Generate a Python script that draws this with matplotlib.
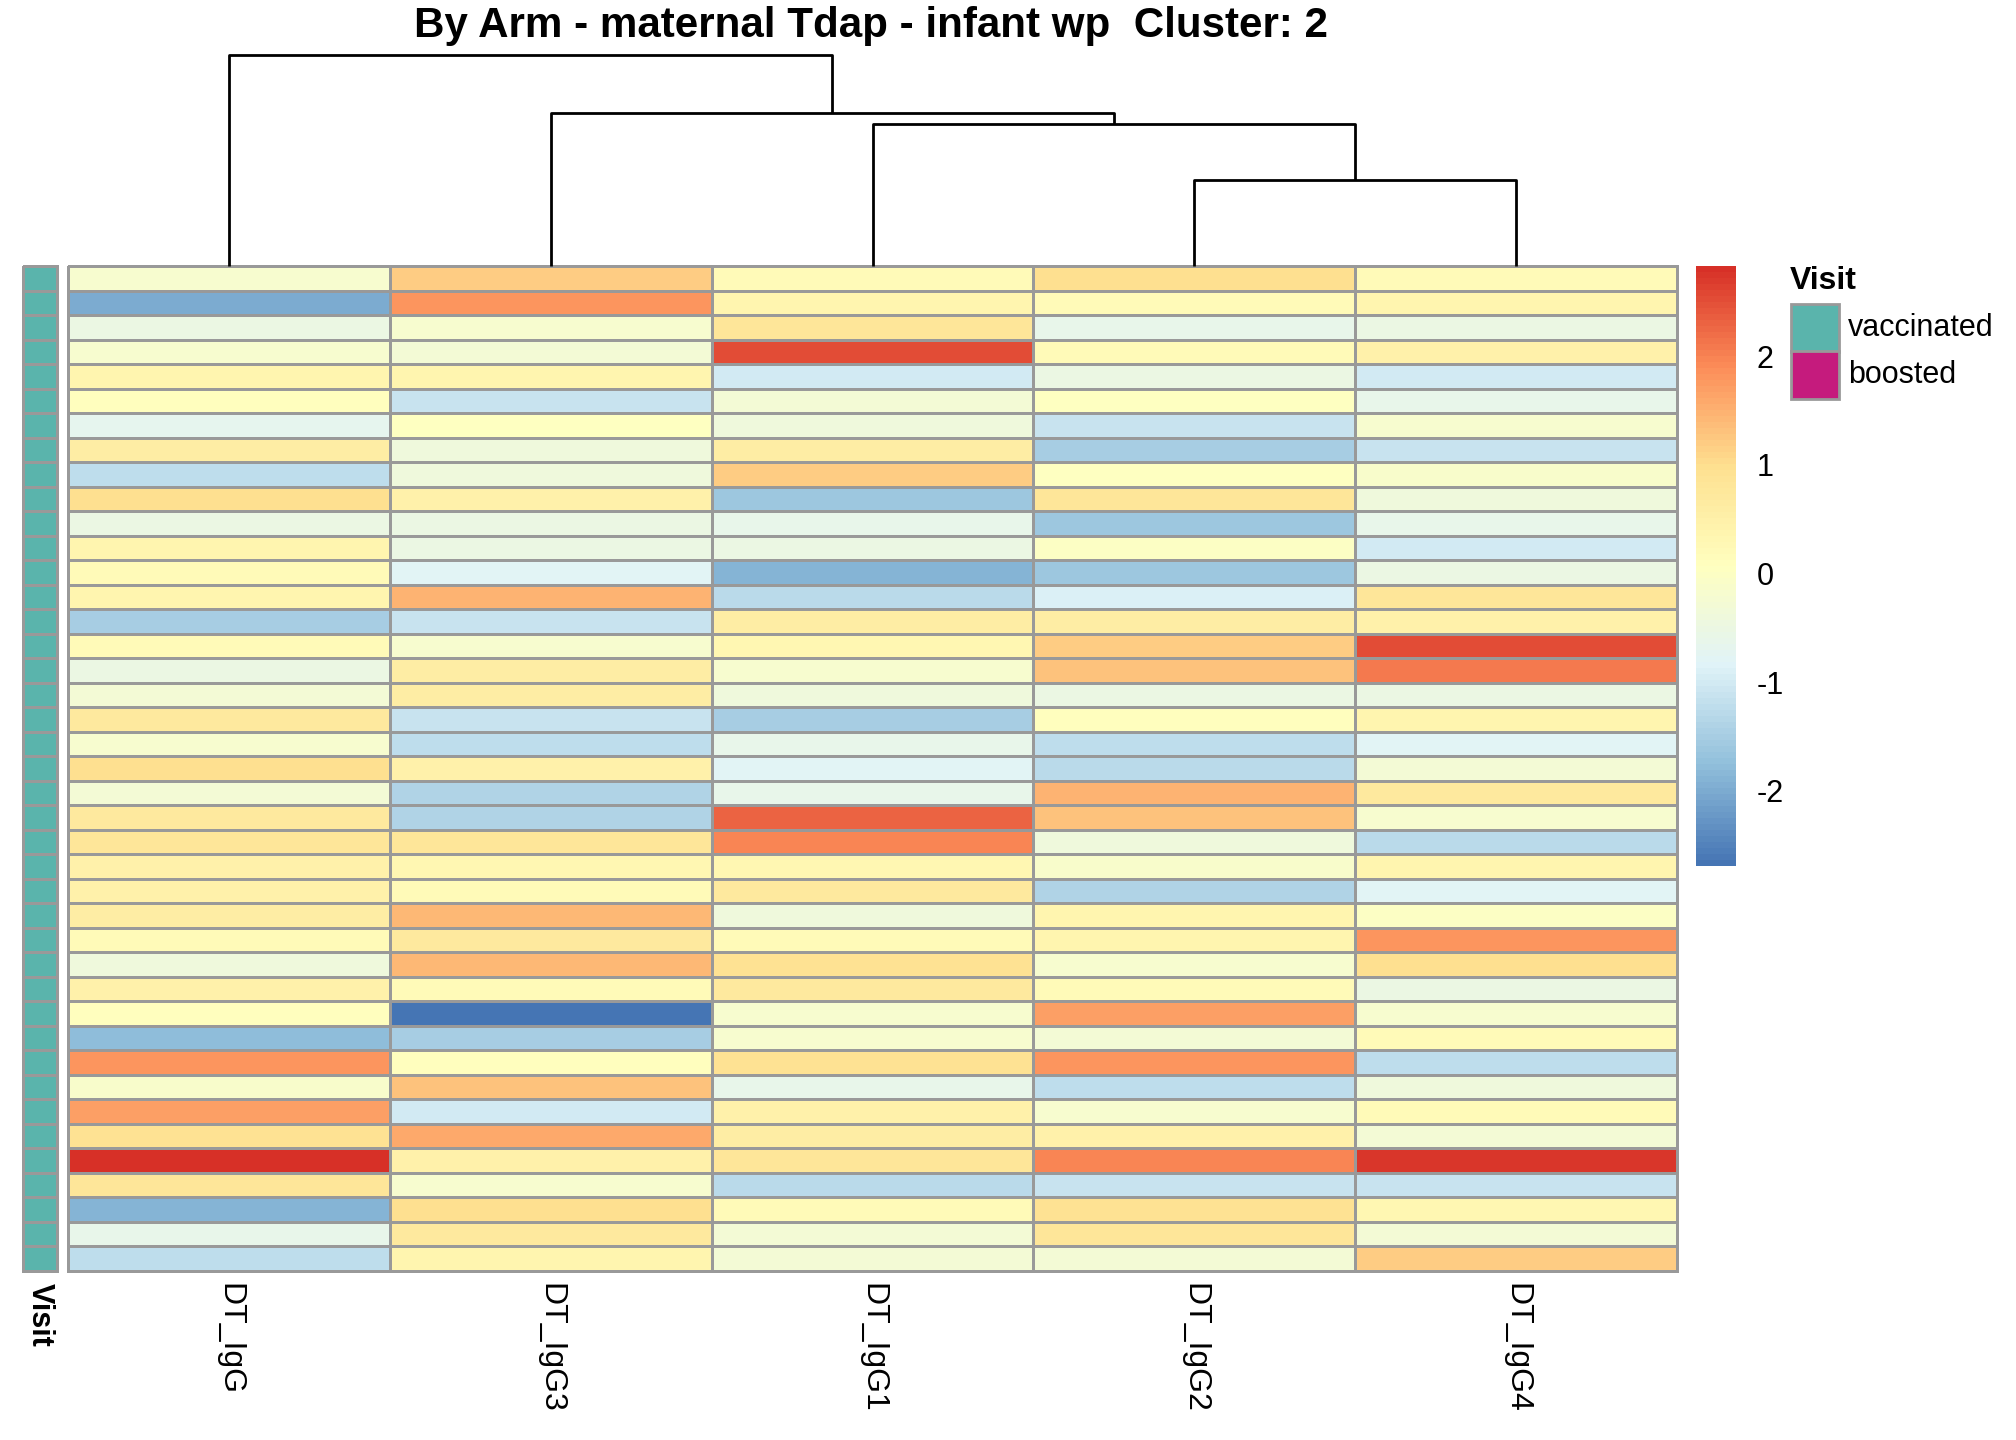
import numpy as np
import matplotlib
matplotlib.use("Agg")
import matplotlib.pyplot as plt
from matplotlib.colors import LinearSegmentedColormap, Normalize
from matplotlib.patches import Rectangle
import matplotlib.colorbar as mcolorbar

plt.rcParams['font.family'] = ['Liberation Sans', 'DejaVu Sans']
plt.rcParams['axes.unicode_minus'] = False

# column order as shown (after clustering)
columns = ["DT_IgG", "DT_IgG3", "DT_IgG1", "DT_IgG2", "DT_IgG4"]

# dendrogram merges: (left node, right node, height); leaves are 0..4
merges = [(3, 4, 0.67), (2, 5, 1.10), (1, 6, 1.19), (0, 7, 1.64)]

# scaled values, one row per sample, top to bottom
values = [
    [-0.2, 1.2, 0.2, 1.0, 0.2],
    [-2.0, 1.8, 0.4, 0.2, 0.4],
    [-0.5, -0.2, 0.8, -0.6, -0.5],
    [-0.2, -0.3, 2.5, 0.2, 0.5],
    [0.4, 0.4, -1.0, -0.5, -1.0],
    [0.1, -1.1, -0.3, 0.05, -0.6],
    [-0.7, 0.05, -0.4, -1.1, -0.2],
    [0.6, -0.4, 0.6, -1.5, -1.1],
    [-1.2, -0.4, 1.2, 0.05, -0.1],
    [1.0, 0.5, -1.6, 0.8, -0.4],
    [-0.5, -0.5, -0.6, -1.6, -0.6],
    [0.4, -0.5, -0.5, 0.0, -1.0],
    [0.2, -0.8, -1.9, -1.6, -0.5],
    [0.4, 1.5, -1.3, -0.9, 0.8],
    [-1.5, -1.1, 0.6, 0.6, 0.5],
    [0.2, -0.2, 0.3, 1.2, 2.55],
    [-0.5, 0.6, -0.2, 1.3, 2.1],
    [-0.3, 0.6, -0.4, -0.5, -0.5],
    [0.7, -1.1, -1.5, 0.1, 0.4],
    [-0.2, -1.2, -0.6, -1.2, -0.8],
    [1.0, 0.5, -0.8, -1.3, -0.3],
    [-0.3, -1.4, -0.6, 1.5, 0.7],
    [0.7, -1.4, 2.3, 1.3, -0.2],
    [0.8, 0.8, 2.0, -0.4, -1.3],
    [0.5, 0.3, 0.3, -0.1, 0.4],
    [0.5, 0.2, 0.7, -1.4, -0.8],
    [0.6, 1.4, -0.4, 0.4, 0.0],
    [0.2, 0.7, 0.2, 0.4, 1.8],
    [-0.4, 1.4, 0.9, -0.2, 1.0],
    [0.5, 0.2, 0.7, 0.2, -0.5],
    [0.1, -2.69, -0.2, 1.7, -0.2],
    [-1.8, -1.5, -0.2, -0.3, 0.2],
    [1.8, 0.1, 0.9, 1.8, -1.2],
    [-0.1, 1.3, -0.6, -1.2, -0.4],
    [1.7, -1.0, 0.5, -0.2, 0.2],
    [0.9, 1.6, 0.6, 0.5, -0.3],
    [2.83, 0.5, 0.8, 2.0, 2.75],
    [0.8, -0.2, -1.3, -1.1, -1.1],
    [-1.9, 1.0, 0.2, 0.9, 0.3],
    [-0.6, 0.7, -0.3, 0.8, -0.3],
    [-1.2, 0.4, -0.3, -0.3, 1.2],
]

visit = ["vaccinated"] * len(values)
visit_levels = ["vaccinated", "boosted"]
visit_colors = {"vaccinated": "#5AB4AC", "boosted": "#C51B7D"}

vmin, vmax = -2.69, 2.83
cbar_ticks = [-2, -1, 0, 1, 2]

W, H = 2016, 1440
fig = plt.figure(figsize=(W / 100, H / 100), dpi=100)


def px_axes(x0, y0, x1, y1):
    return fig.add_axes([x0 / W, 1 - y1 / H, (x1 - x0) / W, (y1 - y0) / H])


cmap = LinearSegmentedColormap.from_list(
    "rdylbu", ["#4575B4", "#91BFDB", "#E0F3F8", "#FFFFBF", "#FEE090", "#FC8D59", "#D73027"], N=100)
border = "#999999"

data = np.array(values)
nrow, ncol = data.shape

# heatmap
ax = px_axes(68, 266, 1677, 1271)
mesh = ax.pcolormesh(data, cmap=cmap, vmin=vmin, vmax=vmax, edgecolors=border, linewidth=1.8)
mesh.set_clip_on(False)
ax.set_xlim(0, ncol)
ax.set_ylim(nrow, 0)
ax.axis("off")
for j, name in enumerate(columns):
    ax.text(j + 0.5, nrow + 0.5, name, rotation=270, ha="center", va="top", fontsize=23)

# annotation column
ax_ann = px_axes(23, 266, 57, 1271)
codes = np.array([[visit_levels.index(v)] for v in visit])
ann_cmap = LinearSegmentedColormap.from_list("visit", [visit_colors[l] for l in visit_levels], N=2)
m2 = ax_ann.pcolormesh(codes, cmap=ann_cmap, vmin=0, vmax=1, edgecolors=border, linewidth=1.8)
m2.set_clip_on(False)
ax_ann.set_xlim(0, 1)
ax_ann.set_ylim(nrow, 0)
ax_ann.axis("off")
ax_ann.text(0.5, nrow + 0.5, "Visit", rotation=270, ha="center", va="top", fontsize=22, fontweight="bold")

# column dendrogram
ax_d = px_axes(68, 55, 1677, 266)
pos = {i: i + 0.5 for i in range(ncol)}
hgt = {i: 0.0 for i in range(ncol)}
node = ncol
for a, b, h in merges:
    ax_d.plot([pos[a], pos[a], pos[b], pos[b]], [hgt[a], h, h, hgt[b]], color="black", lw=2,
              solid_capstyle="butt", clip_on=False)
    pos[node] = (pos[a] + pos[b]) / 2
    hgt[node] = h
    node += 1
ax_d.set_xlim(0, ncol)
ax_d.set_ylim(0, merges[-1][2])
ax_d.axis("off")

# colour bar
cax = px_axes(1696, 266, 1736, 866)
cb = mcolorbar.ColorbarBase(cax, cmap=cmap, norm=Normalize(vmin, vmax), ticks=cbar_ticks)
cb.outline.set_visible(False)
cax.tick_params(length=0, pad=15, labelsize=22)

# legend for Visit
fig.text(1790 / W, 1 - 281 / H, "Visit", fontsize=23, fontweight="bold", ha="left", va="center")
box_h = 47.5
for k, lev in enumerate(visit_levels):
    y0 = 304 + k * box_h
    fig.patches.append(Rectangle((1791 / W, 1 - (y0 + box_h) / H), 48 / W, box_h / H,
                                 transform=fig.transFigure, facecolor=visit_colors[lev],
                                 edgecolor=border, linewidth=2))
    fig.text(1848 / W, 1 - (y0 + box_h / 2) / H, lev, fontsize=22, ha="left", va="center")

fig.suptitle("By Arm - maternal Tdap - infant wp  Cluster: 2", x=871 / W, y=1 - 26 / H,
             fontsize=30.3, fontweight="bold", va="center")

fig.savefig("out.png", dpi=100)
